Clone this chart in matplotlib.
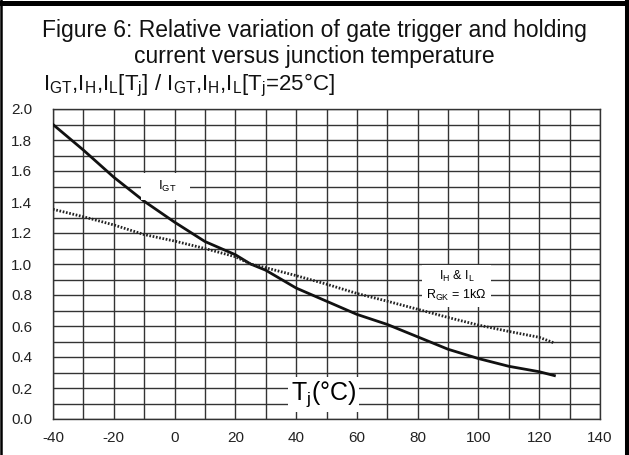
import numpy as np
import matplotlib.pyplot as plt
from matplotlib.lines import Line2D

plt.rcParams['font.family'] = ['Liberation Sans', 'DejaVu Sans']
plt.rcParams['mathtext.fontset'] = 'custom'
plt.rcParams['mathtext.rm'] = 'Liberation Sans'
plt.rcParams['mathtext.it'] = 'Liberation Sans'

# junction temperature (deg C)
temps = [-40, -30, -20, -10, 0, 10, 20, 25, 30, 40, 50, 60, 70, 80, 90, 100, 110, 120, 125]
# I_GT relative to 25 deg C
igt = [1.90, 1.735, 1.56, 1.405, 1.27, 1.145, 1.06, 1.0, 0.96, 0.845, 0.76, 0.675,
       0.61, 0.53, 0.45, 0.39, 0.34, 0.305, 0.28]
# I_H & I_L (R_GK = 1k) relative to 25 deg C
ih_il = [1.353, 1.305, 1.252, 1.19, 1.148, 1.10, 1.047, 1.0, 0.976, 0.925, 0.87, 0.81,
         0.76, 0.708, 0.655, 0.606, 0.565, 0.527, 0.49]

xticks = [-40, -20, 0, 20, 40, 60, 80, 100, 120, 140]
yticks = [0.0, 0.2, 0.4, 0.6, 0.8, 1.0, 1.2, 1.4, 1.6, 1.8, 2.0]

fig = plt.figure(figsize=(6.29, 4.55), dpi=100)
ax = fig.add_axes([53 / 629, 36 / 455, 547 / 629, 310 / 455])

grid_col = '#333333'
ax.set_xlim(-40, 140)
ax.set_ylim(0, 2.0)
ax.set_xticks(xticks)
ax.set_yticks(yticks)
ax.set_xticklabels([str(t) for t in xticks])
ax.set_yticklabels([f"{v:.1f}" for v in yticks])
ax.set_xticks(np.arange(-40, 141, 10), minor=True)
ax.set_yticks(np.arange(0, 2.01, 0.1), minor=True)
ax.grid(which='both', color=grid_col, lw=1.0)
ax.tick_params(which='both', length=0)
ax.tick_params(axis='y', pad=15, labelsize=11, labelcolor='#222222')
ax.tick_params(axis='x', pad=9, labelsize=11, labelcolor='#222222')
for s in ax.spines.values():
    s.set_color(grid_col)
    s.set_linewidth(1.0)
ax.set_axisbelow(True)

ax.plot(temps, igt, color='#111111', lw=2.0, zorder=3)
ax.plot(temps, ih_il, color='#222222', lw=2.0, ls=(0, (0.6, 0.6)), zorder=3)

ax.text(-3, 1.5, r'   I$_{\mathrm{GT}}$   ', fontsize=9.5, ha='center', va='center',
        bbox=dict(facecolor='white', edgecolor='none', pad=4), zorder=4)
ax.text(92.8, 0.86, 'I$_{\\mathrm{H}}$ & I$_{\\mathrm{L}}$\nR$_{\\mathrm{GK}}$ = 1k\u03a9',
        fontsize=9, ha='center', va='center', linespacing=1.35,
        bbox=dict(facecolor='white', edgecolor='none', pad=3), zorder=4)
ax.text(49, 0.16, r'T$_{\mathrm{j}}$(°C)', fontsize=18, ha='center', va='center',
        bbox=dict(facecolor='white', edgecolor='none', pad=2), zorder=4)

fig.text(0.5, 1 - 31 / 455, 'Figure 6: Relative variation of gate trigger and holding',
         fontsize=16.5, ha='center', va='center', color='#111111')
fig.text(0.5, 1 - 56 / 455, 'current versus junction temperature',
         fontsize=16.5, ha='center', va='center', color='#111111')
fig.text(43 / 629, 1 - 85 / 455,
         r'I$_{\mathrm{GT}}$,I$_{\mathrm{H}}$,I$_{\mathrm{L}}$[T$_{\mathrm{j}}$] / '
         r'I$_{\mathrm{GT}}$,I$_{\mathrm{H}}$,I$_{\mathrm{L}}$[T$_{\mathrm{j}}$=25°C]',
         fontsize=16, ha='left', va='center', color='#111111')

# black frame around the figure (left, top, right)
fig.add_artist(Line2D([1.2 / 629, 1.2 / 629], [0, 1], transform=fig.transFigure,
                      color='black', lw=1.8))
fig.add_artist(Line2D([0, 1], [1 - 2.5 / 455, 1 - 2.5 / 455], transform=fig.transFigure,
                      color='black', lw=3.6))
fig.add_artist(Line2D([627 / 629, 627 / 629], [0, 1], transform=fig.transFigure,
                      color='black', lw=2.9))

fig.savefig('out.png', dpi=100)
